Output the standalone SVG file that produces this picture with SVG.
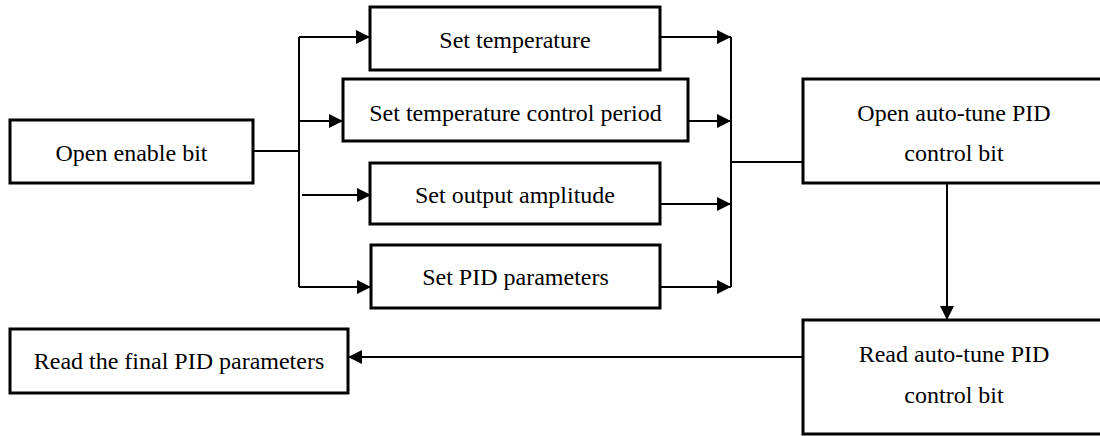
<svg xmlns="http://www.w3.org/2000/svg" width="1100" height="436" viewBox="0 0 1100 436">
<style>
.box{fill:#fff;stroke:#000;stroke-width:3}
.t{font-family:"Liberation Serif","Times New Roman",serif;font-size:24px;fill:#000;text-anchor:middle}
.c{fill:none;stroke:#000;stroke-width:2}
</style>
<defs>
<marker id="ah" markerUnits="userSpaceOnUse" markerWidth="14" markerHeight="14" refX="14" refY="7" orient="auto">
<path d="M0,0 L14,7 L0,14 z" fill="#000"/>
</marker>
</defs>
<rect width="1100" height="436" fill="#fff"/>
<g id="connectors">
<path class="c" d="M253,151 H299 M299,37 V287 M731,37 V287 M731,162 H803"/>
<path class="c" d="M299,37 H370" marker-end="url(#ah)"/>
<path class="c" d="M299,121 H343" marker-end="url(#ah)"/>
<path class="c" d="M302,195 H371" marker-end="url(#ah)"/>
<path class="c" d="M299,287 H371" marker-end="url(#ah)"/>
<path class="c" d="M660,37 H731" marker-end="url(#ah)"/>
<path class="c" d="M688,121 H731" marker-end="url(#ah)"/>
<path class="c" d="M660,204 H731" marker-end="url(#ah)"/>
<path class="c" d="M660,287 H731" marker-end="url(#ah)"/>
<path class="c" d="M947,183 V320" marker-end="url(#ah)"/>
<path class="c" d="M803,357 H348" marker-end="url(#ah)"/>
</g>
<g id="open-enable"><rect class="box" x="10" y="120" width="243" height="63"/><text class="t" x="131.5" y="161">Open enable bit</text></g>
<g id="set-temp"><rect class="box" x="370" y="7" width="290" height="63"/><text class="t" x="515" y="48">Set temperature</text></g>
<g id="set-period"><rect class="box" x="343" y="79" width="345" height="62"/><text class="t" x="515.5" y="121">Set temperature control period</text></g>
<g id="set-amplitude"><rect class="box" x="370" y="163" width="290" height="61"/><text class="t" x="515" y="203">Set output amplitude</text></g>
<g id="set-pid"><rect class="box" x="371" y="245" width="289" height="63"/><text class="t" x="515.5" y="285">Set PID parameters</text></g>
<g id="open-autotune"><rect class="box" x="803" y="79" width="302" height="104"/><text class="t" x="954" y="121">Open auto-tune PID</text><text class="t" x="954" y="161">control bit</text></g>
<g id="read-autotune"><rect class="box" x="803" y="320" width="302" height="114"/><text class="t" x="954" y="362">Read auto-tune PID</text><text class="t" x="954" y="403">control bit</text></g>
<g id="read-final"><rect class="box" x="10" y="329" width="338" height="64"/><text class="t" x="179" y="369">Read the final PID parameters</text></g>
</svg>
